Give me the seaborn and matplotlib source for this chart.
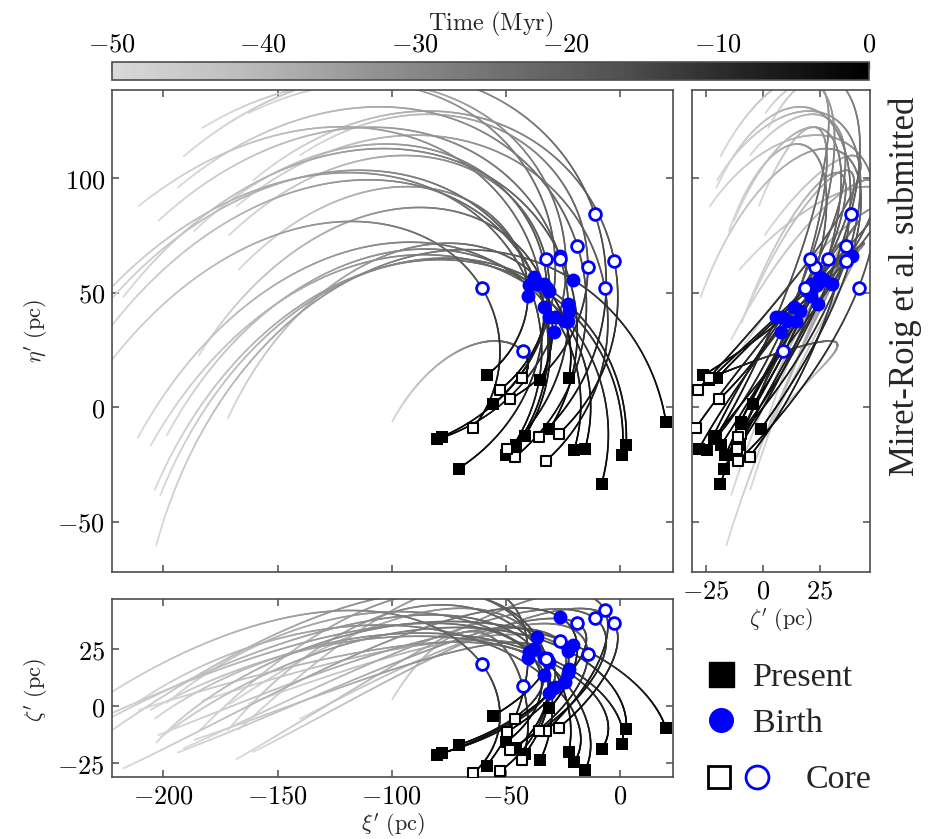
import numpy as np
import pandas as pd
import matplotlib
matplotlib.use("Agg")
import matplotlib.pyplot as plt
import seaborn as sns
from matplotlib.collections import LineCollection
from matplotlib.colors import LinearSegmentedColormap, Normalize
from matplotlib.cm import ScalarMappable
from matplotlib.lines import Line2D
from matplotlib.legend_handler import HandlerTuple
from matplotlib.ticker import FuncFormatter, FixedLocator

# ---------------- data (pc, Myr) ----------------
# present-day positions
present_xi = [-58.4, -34.9, -22.5, -55.5, 20.1, -80.0, -78.0, -70.7, -41.7, -45.5,
              -49.9, -30.9, -20.1, -15.4, 2.7, 1.0, -8.1,
              -26.7, -32.5, -35.3, -42.9, -45.8, -48.4, -49.4, -52.6, -64.2]
present_eta = [14.0, 11.8, 12.6, 1.3, -6.4, -14.0, -12.9, -26.8, -12.6, -16.7,
               -21.1, -9.6, -18.7, -18.4, -16.5, -21.1, -33.5,
               -11.5, -23.5, -12.9, 12.6, -21.6, 3.5, -18.4, 7.6, -8.9]
present_zeta = [-26.0, -23.5, -20.1, -4.2, -9.7, -21.3, -20.6, -17.0, -20.9, -18.4,
                -15.8, -1.0, -24.5, -28.1, -10.1, -16.4, -18.7,
                -9.4, -10.9, -10.9, -23.5, -5.8, -19.1, -11.2, -28.6, -29.3]
# birth positions
birth_xi = [-40.3, -33.5, -31.0, -32.0, -20.7, -29.1, -31.3, -33.5, -36.4, -37.8,
            -40.0, -26.1, -28.4, -24.0, -22.9, -22.3, -22.6,
            -2.5, -6.7, -11.0, -42.6, -18.7, -14.1, -26.1, -32.5, -60.6]
birth_eta = [48.8, 53.9, 50.7, 52.0, 55.8, 33.0, 39.6, 44.0, 53.9, 56.9,
             53.5, 66.1, 39.3, 37.6, 45.2, 42.2, 37.6,
             63.9, 52.3, 84.3, 24.4, 70.5, 61.5, 64.9, 64.9, 52.3]
birth_zeta = [21.0, 21.2, 19.5, 21.0, 27.0, 8.0, 6.0, 13.6, 30.3, 25.1,
              23.6, 39.0, 8.5, 10.5, 24.3, 16.5, 14.7,
              36.3, 42.0, 38.5, 9.0, 36.3, 22.7, 28.5, 20.7, 18.6]
# birth time (Myr ago)
birth_age = [12, 12, 12, 13, 14, 13, 13, 15, 14, 15, 15, 15, 13, 13, 14, 14, 15,
             16, 16, 18, 14, 18, 16, 17, 16, 16]
is_core = [False] * 17 + [True] * 9

time_ticks = [-50, -40, -30, -20, -10, 0]
xi_ticks = [-200, -150, -100, -50, 0]
eta_ticks = [-50, 0, 50, 100]
zeta_ticks = [-25, 0, 25]

# epicyclic model constants (1/Myr)
OMEGA = 0.031
OORT_A = 0.009
NU = 0.077
T_MAX = 50.0

# ---------------- trajectories ----------------
def epicycle(x0, y0, z0, u, v, w, tau):
    kap = np.sqrt(4 * OMEGA * (OMEGA - OORT_A))
    xg = (-2 * OMEGA * v + 4 * OMEGA ** 2 * x0) / kap ** 2
    x = xg + (x0 - xg) * np.cos(kap * tau) + (u / kap) * np.sin(kap * tau)
    y = y0 + v * tau + 2 * OMEGA * ((xg - x0) * tau + (x0 - xg) * np.sin(kap * tau) / kap
                                    + (u / kap ** 2) * (1 - np.cos(kap * tau)))
    z = z0 * np.cos(NU * tau) + (w / NU) * np.sin(NU * tau)
    return x, y, z


tau = np.linspace(0, T_MAX, 501)
tracks = []
for i in range(len(present_xi)):
    x0, y0, z0 = present_xi[i], present_eta[i], present_zeta[i]
    T = birth_age[i]
    bx, by, _ = epicycle(x0, y0, z0, 0, 0, 0, T)
    ux, uy, _ = epicycle(x0, y0, z0, 1, 0, 0, T)
    vx, vy, _ = epicycle(x0, y0, z0, 0, 1, 0, T)
    M = np.array([[ux - bx, vx - bx], [uy - by, vy - by]])
    rhs = np.array([birth_xi[i] - bx, birth_eta[i] - by])
    u, v = np.linalg.solve(M, rhs)
    w = (birth_zeta[i] - z0 * np.cos(NU * T)) * NU / np.sin(NU * T)
    tracks.append(epicycle(x0, y0, z0, u, v, w, tau))

cmap = LinearSegmentedColormap.from_list("greys_trunc", plt.cm.Greys(np.linspace(0.25, 1.0, 256)))
norm = Normalize(-50, 0)


def add_tracks(ax, ia, ib):
    segs, tms = [], []
    tmid = -0.5 * (tau[:-1] + tau[1:])
    for tr in tracks:
        pts = np.column_stack([tr[ia], tr[ib]])
        segs.append(np.stack([pts[:-1], pts[1:]], axis=1))
        tms.append(tmid)
    segs = np.concatenate(segs)
    tms = np.concatenate(tms)
    order = np.argsort(tms)
    lc = LineCollection(segs[order], cmap=cmap, norm=norm, linewidths=1.2,
                        capstyle="round", zorder=1)
    lc.set_array(tms[order])
    ax.add_collection(lc)


df = pd.DataFrame({"xi": present_xi, "eta": present_eta, "zeta": present_zeta,
                   "bxi": birth_xi, "beta": birth_eta, "bzeta": birth_zeta,
                   "core": is_core})
fil = df[~df["core"]]
cor = df[df["core"]]

# ---------------- style ----------------
sns.set_theme(style="ticks")
EDGE = "#4d4d4d"
plt.rcParams.update({
    "mathtext.fontset": "cm",
    "font.family": ["DejaVu Serif"],
    "axes.edgecolor": EDGE,
    "axes.linewidth": 1.2,
    "xtick.color": EDGE,
    "ytick.color": EDGE,
    "xtick.labelcolor": "black",
    "ytick.labelcolor": "black",
})

W, H = 941, 839
fig = plt.figure(figsize=(W / 100, H / 100), dpi=100)


def fr(x0, y0, x1, y1):
    return [x0 / W, 1 - y1 / H, (x1 - x0) / W, (y1 - y0) / H]


ax_m = fig.add_axes(fr(112, 89.7, 673, 571.7))
ax_r = fig.add_axes(fr(692.3, 89.7, 870, 571.7))
ax_b = fig.add_axes(fr(112, 599, 673, 776.7))
cax = fig.add_axes(fr(112, 62, 869, 80))

mathfmt = FuncFormatter(lambda v, p: f"${v:g}$")

panels = [(ax_m, "xi", "eta", "bxi", "beta", 0, 1),
          (ax_r, "zeta", "eta", "bzeta", "beta", 2, 1),
          (ax_b, "xi", "zeta", "bxi", "bzeta", 0, 2)]
for ax, px, py, bxc, byc, ia, ib in panels:
    add_tracks(ax, ia, ib)
    sns.scatterplot(data=fil, x=px, y=py, marker="s", color="black", s=80,
                    linewidth=0, ax=ax, zorder=4, legend=False)
    sns.scatterplot(data=cor, x=px, y=py, marker="s", color="white", s=62,
                    edgecolor="black", linewidth=1.5, ax=ax, zorder=4, legend=False)
    sns.scatterplot(data=fil, x=bxc, y=byc, marker="o", color="blue", s=100,
                    linewidth=0, ax=ax, zorder=5, legend=False)
    sns.scatterplot(data=cor, x=bxc, y=byc, marker="o", color="white", s=72,
                    edgecolor="blue", linewidth=2.0, ax=ax, zorder=5, legend=False)
    ax.set_xlabel("")
    ax.set_ylabel("")
    ax.tick_params(direction="in", top=True, right=True, length=5, width=1.1,
                   labelsize=19, pad=5)
    ax.xaxis.set_major_formatter(mathfmt)
    ax.yaxis.set_major_formatter(mathfmt)

XLIM = (-222.5, 23.2)
ETALIM = (-71.9, 138.8)
ZLIM = (-30.9, 47.0)

ax_m.set_xlim(*XLIM); ax_m.set_ylim(*ETALIM)
ax_m.xaxis.set_major_locator(FixedLocator(xi_ticks))
ax_m.yaxis.set_major_locator(FixedLocator(eta_ticks))
ax_m.tick_params(labelbottom=False)

ax_r.set_xlim(*ZLIM); ax_r.set_ylim(*ETALIM)
ax_r.xaxis.set_major_locator(FixedLocator(zeta_ticks))
ax_r.yaxis.set_major_locator(FixedLocator(eta_ticks))
ax_r.tick_params(labelleft=False)

ax_b.set_xlim(*XLIM); ax_b.set_ylim(*ZLIM)
ax_b.xaxis.set_major_locator(FixedLocator(xi_ticks))
ax_b.yaxis.set_major_locator(FixedLocator(zeta_ticks))

lab_kw = dict(fontsize=16)
ax_m.set_ylabel(r"$\eta^{\prime}\ \mathrm{(pc)}$", **lab_kw)
ax_m.yaxis.set_label_coords(-0.110, 0.5)
ax_b.set_ylabel(r"$\zeta^{\prime}\ \mathrm{(pc)}$", **lab_kw)
ax_b.yaxis.set_label_coords(-0.110, 0.49)
ax_b.set_xlabel(r"$\xi^{\prime}\ \mathrm{(pc)}$", labelpad=2, **lab_kw)
ax_r.set_xlabel(r"$\zeta^{\prime}\ \mathrm{(pc)}$", labelpad=2, **lab_kw)

# colour bar
sm = ScalarMappable(norm=norm, cmap=cmap)
cb = fig.colorbar(sm, cax=cax, orientation="horizontal")
cax.xaxis.set_ticks_position("top")
cax.xaxis.set_label_position("top")
cb.set_ticks(time_ticks)
cax.xaxis.set_major_formatter(mathfmt)
cax.tick_params(direction="in", length=5, width=1.0, labelsize=19, pad=4)
cb.outline.set_edgecolor(EDGE)
cb.set_label(r"$\mathrm{Time\ (Myr)}$", fontsize=17.5, labelpad=1)

# legends
serif = "Liberation Serif"
h_pres = Line2D([], [], marker="s", color="black", linestyle="none", markersize=18)
h_birth = Line2D([], [], marker="o", color="blue", linestyle="none", markersize=17)
leg1 = fig.legend([h_pres, h_birth], ["Present", "Birth"], loc="upper left",
                  bbox_to_anchor=(705 / W, 1 - 662 / H), frameon=False,
                  prop={"family": serif, "size": 24.5}, handlelength=0.95,
                  handletextpad=0.45, labelspacing=0.45, borderpad=0, borderaxespad=0)
h_csq = Line2D([], [], marker="s", color="black", markerfacecolor="white",
               markeredgewidth=2.0, linestyle="none", markersize=16.5)
h_cci = Line2D([], [], marker="o", color="blue", markerfacecolor="white",
               markeredgewidth=2.0, linestyle="none", markersize=16.5)
leg2 = fig.legend([(h_csq, h_cci)], ["Core"], loc="center left",
                  bbox_to_anchor=(704 / W, 1 - 780 / H), frameon=False,
                  prop={"family": serif, "size": 24.5}, handlelength=2.0,
                  handletextpad=1.0, borderpad=0, borderaxespad=0,
                  handler_map={tuple: HandlerTuple(ndivide=None, pad=0.28)})

fig.text(0.962, 0.659, "Miret-Roig et al. submitted", rotation=90,
         ha="center", va="center", fontsize=25, family=serif)

fig.savefig("out.png", dpi=100)
